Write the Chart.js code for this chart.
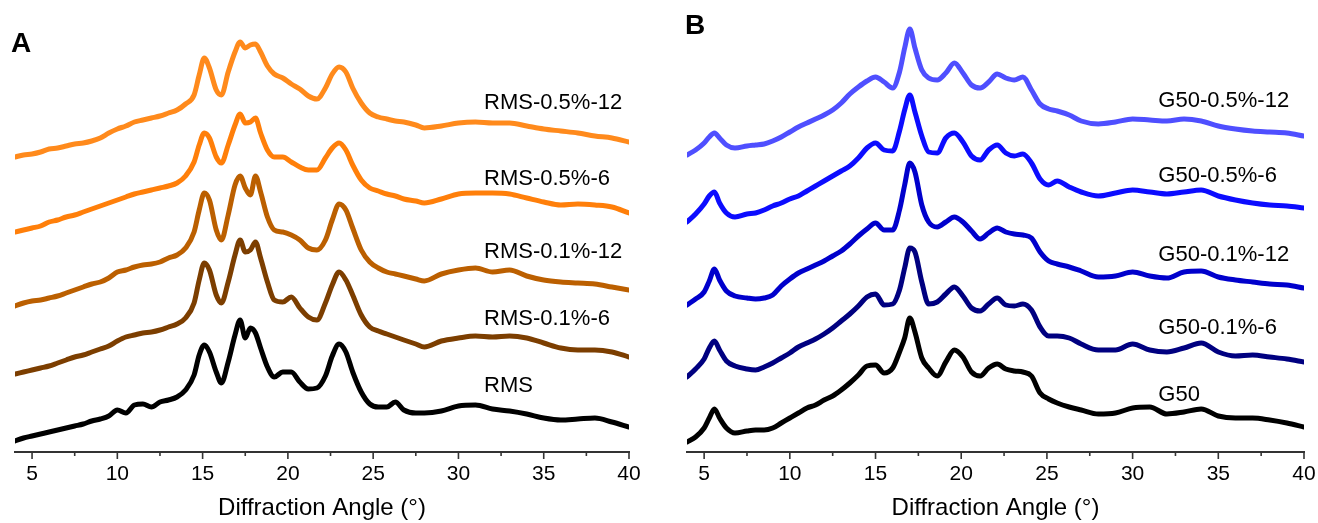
<!DOCTYPE html>
<html>
<head>
<meta charset="utf-8">
<title>XRD patterns</title>
<script src="https://cdn.jsdelivr.net/npm/chart.js@4.4.1/dist/chart.umd.min.js"></script>
<style>
  html, body { margin: 0; padding: 0; background: #fff; }
  #wrap { position: relative; width: 1318px; height: 523px; overflow: hidden; }
  #chartA { position: absolute; left: 0; top: 0; }
  #chartB { position: absolute; left: 660px; top: 0; }
</style>
</head>
<body>
<div id="wrap">
  <canvas id="chartA" width="660" height="523"></canvas>
  <canvas id="chartB" width="658" height="523"></canvas>
</div>
<script>
// 2-theta grids (degrees)
const anglesA = [4, 4.5, 5, 5.5, 6, 6.5, 7, 7.5, 8, 8.5, 9, 9.5, 10, 10.5, 11, 11.5, 12, 12.5, 13, 13.5, 14, 14.5, 14.8, 15.1, 15.4, 15.8, 16.1, 16.5, 16.9, 17.2, 17.5, 17.8, 18.1, 18.4, 18.8, 19.2, 19.7, 20.2, 20.7, 21.2, 21.7, 22.2, 22.6, 23, 23.4, 23.8, 24.3, 24.8, 25.3, 25.8, 26.3, 26.8, 27.5, 28, 29, 30, 31, 32, 33, 34, 35, 36, 37, 38, 39, 40];
const anglesB = [4, 4.5, 5, 5.3, 5.6, 5.9, 6.3, 6.8, 7.5, 8, 8.5, 9, 9.5, 10, 10.5, 11, 11.5, 12, 12.5, 13, 13.5, 14, 14.5, 15, 15.5, 16, 16.4, 16.7, 17, 17.3, 17.7, 18.1, 18.6, 19.1, 19.6, 20.1, 20.6, 21.1, 21.6, 22.1, 22.6, 23.1, 23.6, 24.1, 24.6, 25.1, 25.6, 26.3, 27, 28, 29, 30, 31, 32, 33, 34, 35, 36, 37, 38, 39, 40];

// intensities (a.u.), panel A
const rms05_12 = [5, 7, 8, 10, 13, 14, 16, 18, 19, 21, 24, 29, 33, 36, 40, 42, 44, 46, 49, 52, 58, 67, 87, 104, 94, 72, 67, 90, 110, 120, 114, 117, 118, 110, 96, 88, 84, 78, 73, 66, 63, 74, 88, 95, 90, 74, 59, 49, 45, 43, 41, 40, 37, 34, 36, 39, 40, 39, 39, 36, 33, 31, 29, 26, 24, 20];
const rms05_6 = [0, 2, 4, 6, 10, 12, 15, 17, 20, 23, 26, 29, 32, 35, 38, 40, 42, 44, 46, 49, 56, 70, 87, 99, 94, 75, 69, 87, 107, 118, 109, 110, 114, 99, 82, 75, 75, 70, 65, 62, 62, 74, 84, 89, 82, 67, 52, 44, 41, 38, 36, 33, 31, 29, 33, 38, 39, 39, 38, 34, 30, 27, 28, 27, 25, 19];
const rms01_12 = [1, 4, 6, 7, 9, 11, 14, 17, 20, 23, 25, 29, 35, 37, 40, 42, 43, 45, 49, 52, 59, 75, 97, 114, 107, 77, 67, 92, 122, 131, 119, 112, 131, 115, 90, 77, 75, 72, 67, 59, 57, 67, 87, 103, 97, 79, 57, 45, 39, 35, 33, 31, 28, 26, 33, 37, 39, 35, 37, 31, 27, 25, 24, 23, 20, 17];
const rms01_6 = [3, 5, 7, 9, 11, 14, 17, 20, 22, 25, 28, 31, 36, 40, 42, 44, 45, 47, 50, 53, 59, 74, 97, 114, 107, 82, 74, 95, 122, 137, 125, 127, 135, 119, 95, 77, 75, 80, 69, 60, 57, 74, 92, 105, 97, 82, 62, 50, 46, 43, 40, 37, 33, 30, 36, 39, 41, 40, 41, 39, 34, 29, 27, 27, 25, 20];
const rms = [11, 14, 16, 18, 20, 22, 24, 26, 28, 31, 33, 36, 42, 39, 47, 48, 45, 50, 52, 55, 62, 77, 97, 107, 100, 80, 69, 90, 117, 132, 114, 124, 119, 104, 85, 75, 80, 80, 70, 63, 64, 76, 96, 108, 100, 80, 60, 48, 45, 45, 50, 42, 39, 39, 41, 46, 47, 43, 41, 38, 34, 32, 33, 34, 30, 25];

// intensities (a.u.), panel B
const g50_05_12 = [7, 12, 19, 25, 29, 24, 17, 14, 16, 17, 18, 21, 25, 30, 35, 39, 43, 47, 52, 59, 68, 75, 81, 85, 80, 74, 90, 114, 133, 114, 92, 84, 82, 89, 99, 89, 77, 74, 80, 88, 84, 82, 85, 72, 58, 53, 51, 47, 41, 38, 40, 43, 42, 41, 43, 41, 36, 33, 31, 30, 29, 26];
const g50_05_6 = [5, 13, 23, 31, 35, 24, 14, 10, 13, 14, 17, 21, 24, 28, 31, 36, 41, 46, 51, 56, 61, 69, 79, 84, 77, 76, 96, 117, 132, 115, 91, 75, 74, 89, 94, 85, 71, 67, 77, 82, 74, 71, 73, 64, 48, 42, 46, 40, 35, 31, 34, 37, 35, 33, 35, 37, 31, 27, 24, 22, 21, 19];
const g50_01_12 = [2, 8, 15, 26, 38, 27, 16, 11, 9, 8, 9, 12, 21, 28, 34, 38, 42, 46, 51, 56, 63, 71, 78, 84, 77, 77, 97, 122, 144, 135, 102, 85, 80, 85, 90, 85, 76, 68, 74, 79, 75, 73, 72, 69, 55, 46, 43, 40, 36, 30, 31, 35, 31, 29, 35, 36, 30, 27, 25, 23, 22, 19];
const g50_01_6 = [5, 13, 23, 34, 41, 32, 21, 16, 13, 12, 15, 19, 24, 29, 35, 39, 43, 48, 54, 61, 68, 76, 85, 88, 77, 78, 92, 114, 134, 130, 100, 78, 80, 88, 95, 86, 74, 71, 78, 84, 77, 76, 78, 72, 55, 46, 46, 44, 38, 32, 32, 38, 32, 30, 34, 39, 30, 26, 27, 25, 23, 20];
const g50 = [10, 15, 24, 34, 43, 34, 24, 19, 21, 22, 22, 24, 29, 34, 39, 44, 47, 52, 56, 62, 69, 77, 86, 87, 79, 84, 100, 114, 134, 120, 94, 84, 76, 90, 102, 95, 80, 76, 84, 88, 83, 81, 80, 76, 59, 53, 49, 45, 42, 38, 39, 44, 45, 38, 40, 43, 36, 34, 34, 32, 29, 25];

// sample names and vertical stacking offsets
const namesA = ['RMS-0.5%-12', 'RMS-0.5%-6', 'RMS-0.1%-12', 'RMS-0.1%-6', 'RMS'];
const namesB = ['G50-0.5%-12', 'G50-0.5%-6', 'G50-0.1%-12', 'G50-0.1%-6', 'G50'];
const offsetsA = [290, 220, 145, 75, 0];
const offsetsB = [290, 225, 145, 70, 0];

// x-axis ticks (every 2.5 deg, labelled every 5)
const tickAngles = [5, 7.5, 10, 12.5, 15, 17.5, 20, 22.5, 25, 27.5, 30, 32.5, 35, 37.5, 40];

const colorsA = ['#ff8a1c', '#ff7f0a', '#bb5f00', '#7c3e00', '#000000'];
const colorsB = ['#4f4fff', '#0c0cff', '#0000cc', '#000080', '#000000'];

const FONT = '"Liberation Sans", Arial, Helvetica, sans-serif';

// tick marks, sample names and panel letter
const traceLabels = {
  id: 'traceLabels',
  afterDraw(chart, args, opts) {
    const { ctx } = chart;
    const xs = chart.scales.x, ys = chart.scales.y;
    ctx.save();

    // major / minor tick marks under the axis line
    ctx.strokeStyle = '#333';
    ctx.lineWidth = 1.6;
    xs.ticks.forEach(t => {
      const px = xs.getPixelForValue(t.value);
      const len = t.value % 5 === 0 ? 7 : 4;
      ctx.beginPath();
      ctx.moveTo(px, xs.top);
      ctx.lineTo(px, xs.top + len);
      ctx.stroke();
    });

    ctx.fillStyle = '#000';
    ctx.textAlign = 'left';
    ctx.textBaseline = 'middle';
    ctx.font = '22px ' + FONT;
    opts.names.forEach((name, i) => {
      ctx.fillText(name, xs.getPixelForValue(opts.at), ys.getPixelForValue(opts.levels[i]));
    });

    ctx.font = 'bold 28px ' + FONT;
    ctx.fillText(opts.letter, opts.letterX, opts.letterY);
    ctx.restore();
  }
};

function makeChart(id, angles, series, names, offsets, colors, pad, labelOpts) {
  const datasets = series.map((vals, i) => ({
    label: names[i],
    data: angles.map((a, j) => ({ x: a, y: vals[j] + offsets[i] })),
    borderColor: colors[i],
    borderWidth: 5,
    borderJoinStyle: 'round',
    borderCapStyle: 'round',
    pointRadius: 0,
    cubicInterpolationMode: 'monotone',
    fill: false
  }));

  return new Chart(document.getElementById(id), {
    type: 'line',
    data: { datasets },
    options: {
      responsive: false,
      animation: false,
      layout: { padding: pad },
      plugins: {
        legend: { display: false },
        tooltip: { enabled: false },
        traceLabels: labelOpts
      },
      scales: {
        x: {
          type: 'linear',
          min: 4,
          max: 40,
          grid: { display: false, drawTicks: false },
          border: { display: true, color: '#333', width: 2 },
          afterBuildTicks: scale => { scale.ticks = tickAngles.map(v => ({ value: v })); },
          afterFit: scale => { scale.height = 71; scale.paddingLeft = 0; scale.paddingRight = 0; },
          ticks: {
            autoSkip: false,
            maxRotation: 0,
            padding: 10,
            color: '#000',
            font: { family: FONT, size: 21 },
            callback: v => (v % 5 === 0 ? String(v) : '')
          },
          title: {
            display: true,
            text: 'Diffraction Angle (°)',
            color: '#000',
            font: { family: FONT, size: 24 },
            padding: { top: 0, bottom: 0 }
          }
        },
        y: { display: false, min: 0, max: 452 }
      }
    },
    plugins: [traceLabels]
  });
}

makeChart('chartA', anglesA, [rms05_12, rms05_6, rms01_12, rms01_6, rms], namesA, offsetsA, colorsA,
  { left: 15, right: 31, top: 0, bottom: 0 },
  { names: namesA, at: 31.5, levels: [349, 273, 200, 133, 66], letter: 'A', letterX: 11, letterY: 44 });

makeChart('chartB', anglesB, [g50_05_12, g50_05_6, g50_01_12, g50_01_6, g50], namesB, offsetsB, colorsB,
  { left: 27, right: 14, top: 0, bottom: 0 },
  { names: namesB, at: 31.5, levels: [351, 276, 197, 124, 57], letter: 'B', letterX: 25, letterY: 26 });
</script>
</body>
</html>
